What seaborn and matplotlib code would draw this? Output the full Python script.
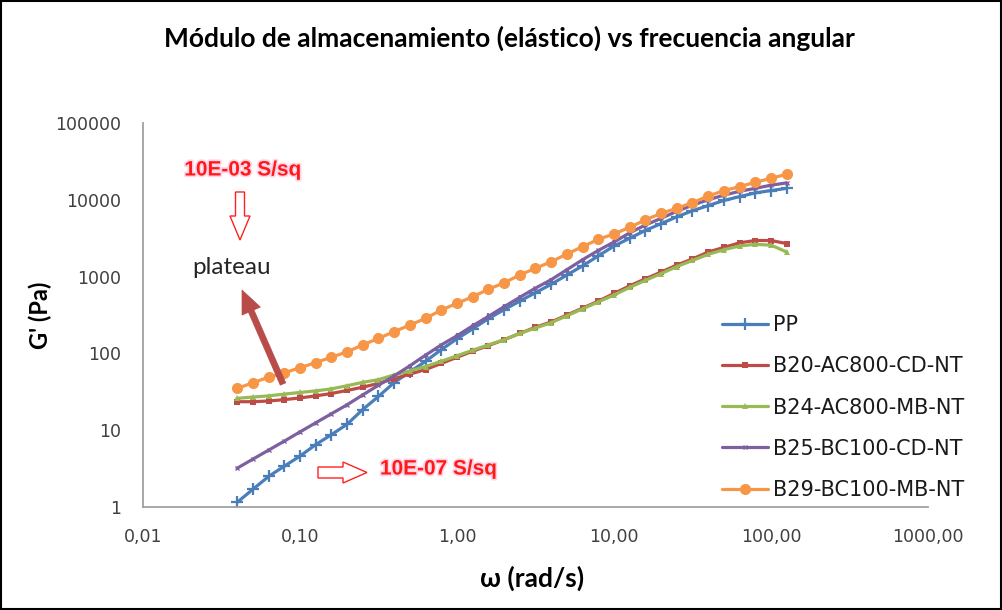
import matplotlib
matplotlib.use("Agg")
import matplotlib.pyplot as plt
import matplotlib.patheffects as pe
from matplotlib.patches import FancyArrow, Rectangle
import pandas as pd
import seaborn as sns

# Angular frequency (rad/s), 10 points per decade
omega = [0.0398, 0.0501, 0.0631, 0.0794, 0.100, 0.126, 0.158, 0.200, 0.251, 0.316,
         0.398, 0.501, 0.631, 0.794, 1.00, 1.26, 1.58, 2.00, 2.51, 3.16,
         3.98, 5.01, 6.31, 7.94, 10.0, 12.6, 15.8, 20.0, 25.1, 31.6,
         39.8, 50.1, 63.1, 79.4, 100.0, 125.9]

# Storage modulus G' (Pa)
g_pp = [1.15, 1.7, 2.5, 3.4, 4.6, 6.5, 8.7, 12, 18.6, 27.5,
        41.7, 57.5, 79, 112, 155, 209, 282, 372, 479, 617,
        794, 1050, 1380, 1860, 2500, 3160, 3980, 4900, 6000, 7200,
        8400, 9800, 11000, 12300, 13200, 14100]
g_b20 = [23.5, 23.5, 24, 25, 26.3, 28, 30, 33, 36.3, 40.7,
         46.8, 53.7, 61.7, 74, 89, 107, 126, 151, 182, 219,
         257, 316, 389, 479, 603, 759, 933, 1148, 1413, 1698,
         2089, 2399, 2754, 2951, 2951, 2692]
g_b24 = [26, 27, 28, 29.5, 31, 32.5, 34.5, 38, 42, 45.5,
         52.5, 59, 67.5, 79, 93, 110, 129, 151, 182, 214,
         251, 309, 380, 468, 575, 724, 891, 1096, 1349, 1622,
         1950, 2240, 2510, 2630, 2570, 2090]
g_b25 = [3.2, 4.2, 5.5, 7.2, 9.5, 12.5, 16.3, 21.5, 28.8, 38.5,
         51, 69, 95, 129, 170, 229, 302, 407, 537, 708,
         912, 1230, 1660, 2190, 2820, 3720, 4680, 5750, 7080, 8510,
         10000, 11500, 12900, 14100, 15500, 16600]
g_b29 = [35, 41.5, 49, 56, 65, 76, 89, 105, 129, 157,
         192, 234, 286, 367, 449, 547, 682, 833, 1050, 1283,
         1563, 1969, 2454, 3055, 3589, 4385, 5458, 6670, 7744, 9170,
         11200, 13150, 14830, 16900, 19050, 21500]

series_names = ["PP", "B20-AC800-CD-NT", "B24-AC800-MB-NT",
                "B25-BC100-CD-NT", "B29-BC100-MB-NT"]
series_values = [g_pp, g_b20, g_b24, g_b25, g_b29]
colors = ["#4A7EBB", "#BE4B48", "#98B954", "#7D60A0", "#F79646"]

x_ticks = [0.01, 0.1, 1, 10, 100, 1000]
x_tick_labels = ["0,01", "0,10", "1,00", "10,00", "100,00", "1000,00"]
y_ticks = [1, 10, 100, 1000, 10000, 100000]
y_tick_labels = ["1", "10", "100", "1000", "10000", "100000"]

title = "Módulo de almacenamiento (elástico) vs frecuencia angular"

sns.set_theme(style="white")
plt.rcParams["font.family"] = ["DejaVu Sans"]

W, H = 1003, 610
fig = plt.figure(figsize=(W / 100, H / 100), dpi=100)
ax = fig.add_axes([143 / W, 1 - 507 / H, (928 - 143) / W, (507 - 123) / H])

df = pd.DataFrame({"omega": omega})
for name, vals in zip(series_names, series_values):
    df[name] = vals

styles = {
    "PP": dict(marker="+", markersize=9, markeredgewidth=1.6),
    "B20-AC800-CD-NT": dict(marker="s", markersize=4.2, markeredgewidth=0),
    "B24-AC800-MB-NT": dict(marker="^", markersize=4, markeredgewidth=0),
    "B25-BC100-CD-NT": dict(marker="x", markersize=3, markeredgewidth=1.0),
    "B29-BC100-MB-NT": dict(marker="o", markersize=8, markeredgewidth=0),
}

for i, (name, col) in enumerate(zip(series_names, colors)):
    sns.lineplot(data=df, x="omega", y=name, ax=ax, color=col, label=name,
                 linewidth=2.3, markeredgecolor=col, zorder=2 + i,
                 **styles[name])

ax.set_xscale("log")
ax.set_yscale("log")
ax.set_xlim(0.01, 1000)
ax.set_ylim(1, 100000)
ax.set_xticks(x_ticks)
ax.set_xticklabels(x_tick_labels)
ax.set_yticks(y_ticks)
ax.set_yticklabels(y_tick_labels)
ax.minorticks_off()
ax.tick_params(axis="both", length=0, labelsize=12.5, labelcolor="#404040")
ax.tick_params(axis="x", pad=15)
ax.tick_params(axis="y", pad=16)
ax.grid(False)
for side in ("top", "right"):
    ax.spines[side].set_visible(False)
for side in ("left", "bottom"):
    ax.spines[side].set_color("#A0A0A0")
    ax.spines[side].set_linewidth(1.3)

ax.set_xlabel("")
ax.set_ylabel("")

bold_font = ["Lato", "DejaVu Sans"]
fig.text(509 / W, 1 - 38 / H, title, ha="center", va="center",
         fontsize=19, fontweight="bold", family=bold_font, color="#000000")
fig.text(532 / W, 1 - 578 / H, "ω (rad/s)", ha="center", va="center",
         fontsize=19, fontweight="bold", family=bold_font, color="#000000")
fig.text(40 / W, 1 - 315 / H, "G' (Pa)", ha="center", va="center", rotation=90,
         fontsize=17, fontweight="bold", family=bold_font, color="#000000")

leg = ax.legend(loc="upper left", bbox_to_anchor=(722 / W, 1 - 315 / H),
                bbox_transform=fig.transFigure, frameon=False,
                fontsize=15, handlelength=2.2, handletextpad=0.25,
                labelspacing=1.02, borderpad=0, borderaxespad=0)
for t in leg.get_texts():
    t.set_color("#1A1A1A")

# Annotations
glow = [pe.withStroke(linewidth=2.5, foreground="#FFD6E8")]
red_font = ["Liberation Sans", "DejaVu Sans"]
fig.text(243 / W, 1 - 170 / H, "10E-03 S/sq", ha="center", va="center",
         fontsize=15, fontweight="bold", color="#FF1A1A", family=red_font,
         path_effects=glow)
fig.text(380 / W, 1 - 469 / H, "10E-07 S/sq", ha="left", va="center",
         fontsize=15, fontweight="bold", color="#FF1A1A", family=red_font,
         path_effects=glow)
fig.text(232 / W, 1 - 267 / H, "plateau", ha="center", va="center",
         fontsize=17.5, family=["Lato", "DejaVu Sans"], color="#262626")

inch = fig.dpi_scale_trans
fig.patches.append(FancyArrow(2.40, (H - 192) / 100, 0, -0.48, width=0.09,
                              head_width=0.20, head_length=0.24,
                              length_includes_head=True, fill=False,
                              edgecolor="#FF2020", linewidth=1.0,
                              transform=inch, figure=fig))
fig.patches.append(FancyArrow(3.18, (H - 472.5) / 100, 0.49, 0, width=0.11,
                              head_width=0.21, head_length=0.24,
                              length_includes_head=True, fill=False,
                              edgecolor="#FF2020", linewidth=1.0,
                              transform=inch, figure=fig))
fig.patches.append(FancyArrow(2.83, (H - 384) / 100, -0.41, 0.94, width=0.06,
                              head_width=0.20, head_length=0.23,
                              length_includes_head=True, fill=True,
                              facecolor="#B84C48", edgecolor="#B84C48",
                              linewidth=0.5, transform=inch, figure=fig))

# Outer frame of the chart area
fig.patches.append(Rectangle((0.001, 0.002), 0.997, 0.996, transform=fig.transFigure,
                             fill=False, edgecolor="#000000", linewidth=1.5,
                             figure=fig))

fig.savefig("out.png", dpi=100)
